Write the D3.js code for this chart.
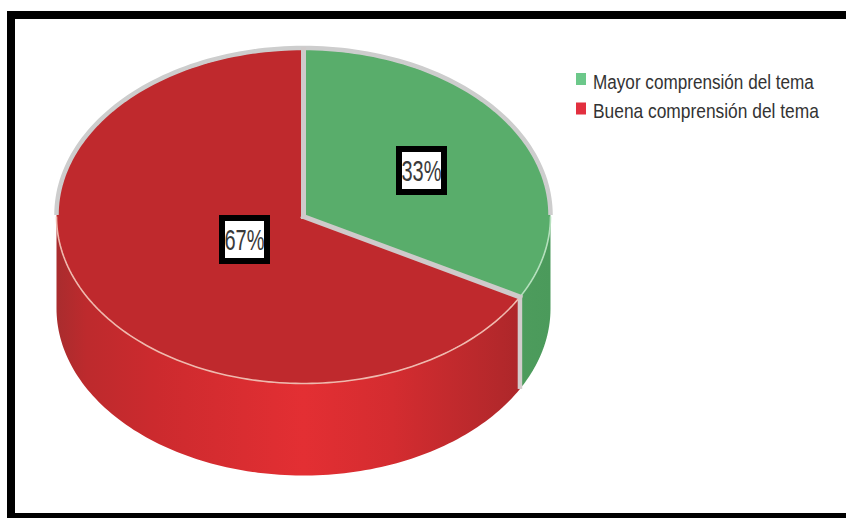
<!DOCTYPE html>
<html>
<head>
<meta charset="utf-8">
<style>
  html, body { margin: 0; padding: 0; background: #fff; }
  svg { display: block; }
</style>
<script src="https://cdn.jsdelivr.net/npm/d3@7/dist/d3.min.js"></script>
</head>
<body>
<svg id="chart" width="846" height="518"></svg>
<script>
// Survey shares for the two comprehension levels
const categories = ["Mayor comprensión del tema", "Buena comprensión del tema"];
const shares = [33, 67];
const topColors = ["#59ad6b", "#bf292d"];
const legendColors = ["#6cc88a", "#e2303f"];

const width = 846, height = 518;
const cx = 303.5, cy = 216.5, rx = 247, ry = 167, depth = 92;
const fontStack = "'Liberation Sans Narrow', 'Liberation Sans', Arial, sans-serif";

const svg = d3.select("#chart");
const defs = svg.append("defs");

// Horizontal shading of the cylinder wall
function wallGradient(id, stops) {
  const g = defs.append("linearGradient").attr("id", id)
    .attr("gradientUnits", "userSpaceOnUse")
    .attr("x1", cx - rx).attr("x2", cx + rx).attr("y1", 0).attr("y2", 0);
  stops.forEach(([o, c]) => g.append("stop").attr("offset", o).attr("stop-color", c));
}
wallGradient("wall-red", [[0, "#a92c2e"], [0.06, "#bd2a2d"], [0.2, "#cc2a2e"], [0.5, "#e32f33"], [0.68, "#d42c30"], [0.9, "#b3282b"], [1, "#a32528"]]);
wallGradient("wall-green", [[0.88, "#4f9e5e"], [1, "#4b9a5b"]]);

const pie = d3.pie().value(d => d).sort(null);
const arcs = pie(shares);

// Maps a pie angle (clockwise from twelve o'clock) onto the tilted ellipse
const rimX = a => cx + rx * Math.sin(a);
const rimY = a => cy - ry * Math.cos(a);

function rimPoints(a0, a1, dy) {
  const n = 120, pts = [];
  for (let i = 0; i <= n; i++) {
    const a = a0 + (a1 - a0) * i / n;
    pts.push([rimX(a), rimY(a) + dy]);
  }
  return pts;
}
const line = d3.line();

// Wall: the part of a slice's outer edge that faces the viewer
function wallPath(a0, a1) {
  const start = Math.max(a0, Math.PI / 2);
  const end = Math.min(a1, Math.PI * 1.5);
  if (end <= start) return null;
  return line(rimPoints(start, end, 0).concat(rimPoints(start, end, depth).reverse())) + "Z";
}

svg.append("g").selectAll("path").data(arcs).join("path")
  .attr("d", d => wallPath(d.startAngle, d.endAngle))
  .attr("fill", (d, i) => i === 0 ? "url(#wall-green)" : "url(#wall-red)");

// Vertical seam where the two slices meet on the wall
const seam = arcs[0].endAngle;
svg.append("line")
  .attr("x1", rimX(seam)).attr("x2", rimX(seam))
  .attr("y1", rimY(seam)).attr("y2", rimY(seam) + depth)
  .attr("stroke", "#d3cccc").attr("stroke-width", 4.5);

// Top face: a unit circle arc squashed into the ellipse
const arcGen = d3.arc().innerRadius(0).outerRadius(1);
const face = svg.append("g")
  .attr("transform", `translate(${cx},${cy}) scale(${rx},${ry})`);
face.selectAll("path").data(arcs).join("path")
  .attr("d", arcGen)
  .attr("fill", (d, i) => topColors[i]);

// Light rim along the front edge of the face
svg.append("path")
  .attr("d", line(rimPoints(seam, Math.PI * 1.5, 0)))
  .attr("fill", "none").attr("stroke", "#efb9ae").attr("stroke-width", 1.6);
svg.append("path")
  .attr("d", line(rimPoints(Math.PI / 2, seam, 0)))
  .attr("fill", "none").attr("stroke", "#b5e0bd").attr("stroke-width", 1.6);

// Grey rim around the back edge
svg.append("path")
  .attr("d", line(rimPoints(-Math.PI / 2, Math.PI / 2, -1.5)))
  .attr("fill", "none").attr("stroke", "#cdcdcd").attr("stroke-width", 4.5);

// Grey dividers between the slices
[arcs[0].startAngle, seam].forEach(a => {
  svg.append("line")
    .attr("x1", cx).attr("y1", cy)
    .attr("x2", rimX(a)).attr("y2", rimY(a))
    .attr("stroke", "#cfcaca").attr("stroke-width", 5)
    .attr("stroke-linecap", "square");
});

// Squeezes a text horizontally to a given width, keeping its start on x
function fitWidth(sel, widthOf, anchorX) {
  sel.each(function (d, i) {
    const natural = this.getComputedTextLength();
    const k = widthOf(d, i) / natural;
    d3.select(this).attr("transform", `translate(${anchorX},0) scale(${k},1)`);
  });
}

// Boxed percentage labels
const labelBox = { w: 45, h: 43, stroke: 6 };
const labelPos = [[421.5, 170.5], [244.5, 239.5]];
const labels = svg.append("g").selectAll("g").data(arcs).join("g")
  .attr("transform", (d, i) => `translate(${labelPos[i][0]},${labelPos[i][1]})`);
labels.append("rect")
  .attr("x", -labelBox.w / 2).attr("y", -labelBox.h / 2)
  .attr("width", labelBox.w).attr("height", labelBox.h)
  .attr("fill", "#fff").attr("stroke", "#000").attr("stroke-width", labelBox.stroke);
labels.append("text")
  .attr("text-anchor", "middle").attr("y", 10.5)
  .attr("font-family", fontStack)
  .attr("font-size", 29).attr("fill", "#3a3a3a")
  .text(d => d.value + "%")
  .call(fitWidth, () => 40, 0);

// Legend
const legendY = d3.scalePoint().domain(categories).range([79, 108.5]);
const legendWidths = [221, 226];
const legend = svg.append("g").selectAll("g").data(categories).join("g")
  .attr("transform", d => `translate(576,${legendY(d)})`);
legend.append("rect")
  .attr("x", 0).attr("y", -6).attr("width", 10).attr("height", 12)
  .attr("fill", (d, i) => legendColors[i]);
legend.append("text")
  .attr("y", 9.5)
  .attr("font-family", fontStack)
  .attr("font-size", 20).attr("fill", "#333")
  .text(d => d)
  .call(fitWidth, (d, i) => legendWidths[i], 17);

// Black frame on the top, left and bottom edges
const frameBars = [
  [7, 11, width - 7, 8],
  [7, 11, 8, height - 11],
  [7, 513, width - 7, 5]
];
svg.append("g").selectAll("rect").data(frameBars).join("rect")
  .attr("x", d => d[0]).attr("y", d => d[1])
  .attr("width", d => d[2]).attr("height", d => d[3])
  .attr("fill", "#000");
</script>
</body>
</html>
